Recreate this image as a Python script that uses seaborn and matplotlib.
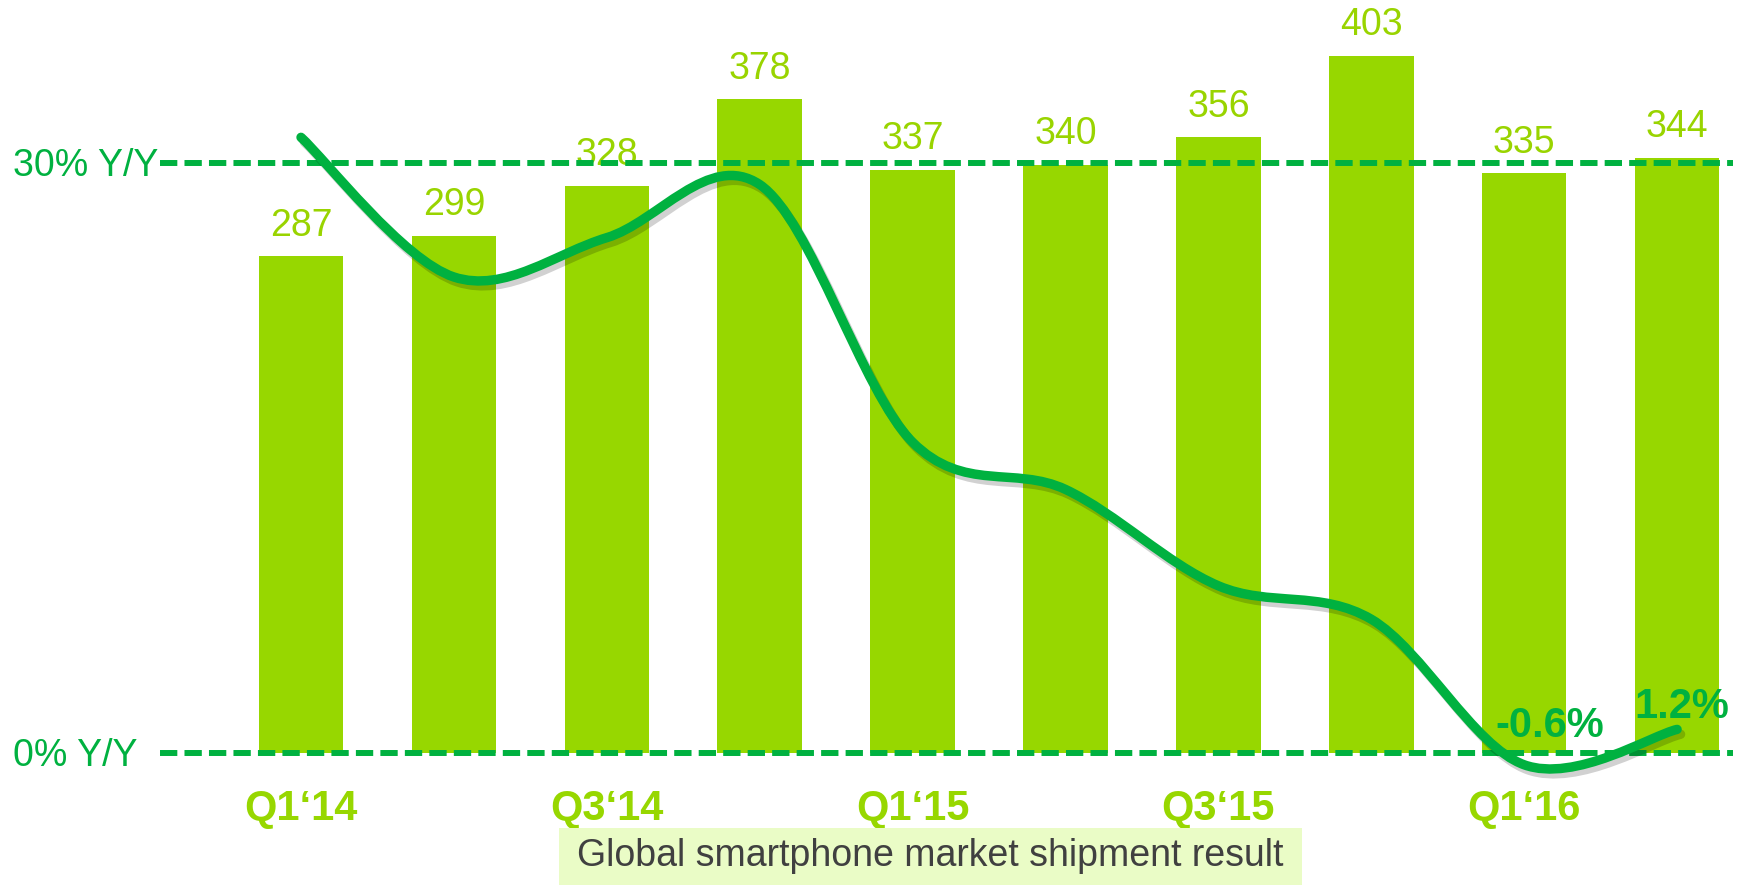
import numpy as np
import pandas as pd
import matplotlib
matplotlib.use('Agg')
import matplotlib.pyplot as plt
import seaborn as sns
import matplotlib.patheffects as pe
from matplotlib.path import Path
from matplotlib.patches import PathPatch, Rectangle

# ── datos ──
QUARTERS  = ["Q1‘14", "Q2‘14", "Q3‘14", "Q4‘14", "Q1‘15",
             "Q2‘15", "Q3‘15", "Q4‘15", "Q1‘16", "Q2‘16"]
SHIPMENTS = [287, 299, 328, 378, 337, 340, 356, 403, 335, 344]
YOY       = [31.3, 24.2, 26.2, 28.9, 15.8, 13.4, 8.5, 6.8, -0.6, 1.2]
SHOW_TICK = [True, False, True, False, True, False, True, False, True, False]
REF_LINES  = [0, 30]
REF_LABELS = ["0% Y/Y", "30% Y/Y"]
SUBTITLE   = "Global smartphone market shipment result"

BAR_GREEN  = "#97D700"
LINE_GREEN = "#00B140"
LABEL_GRN  = "#99D400"

W, H = 1742, 885
sns.set_style("white")
plt.rcParams['font.family'] = ['Liberation Sans', 'DejaVu Sans']

fig = plt.figure(figsize=(W / 100, H / 100), dpi=100)
fig.patch.set_facecolor("white")
ax = fig.add_axes([0, 85 / H, 1, 800 / H])
ax.patch.set_alpha(0)

df = pd.DataFrame({"quarter": QUARTERS, "shipments": SHIPMENTS, "yoy": YOY})

sns.barplot(data=df, x="quarter", y="shipments", color=BAR_GREEN,
            saturation=1, width=0.552, ax=ax, edgecolor="none")
ax.bar_label(ax.containers[0], padding=9, fontsize=27, color=LABEL_GRN)

px_bar = 1.73      # px por unidad
pitch = 152.9      # px entre barras
ax.set_ylim(-47 / px_bar, 753 / px_bar)
ax.set_xlim(-301 / pitch, (W - 301) / pitch)
ax.set_xticks([])
ax.set_yticks([])
ax.set_xlabel("")
ax.set_ylabel("")
sns.despine(ax=ax, left=True, bottom=True)

# etiquetas de trimestre
for i, (q, show) in enumerate(zip(QUARTERS, SHOW_TICK)):
    if show:
        ax.text(i, -20 / 800, q, transform=ax.get_xaxis_transform(),
                ha="center", va="baseline", fontsize=30,
                fontweight="bold", color=BAR_GREEN)

# ── eje Y/Y ──
ax2 = ax.twinx()
px_pct = 19.67
ax2.set_ylim(-47 / px_pct, 753 / px_pct)
ax2.set_xlim(ax.get_xlim())
ax2.set_yticks([])
ax2.axis("off")

x_start, x_end = (160 - 301) / pitch, (1733 - 301) / pitch
for val, lab in zip(REF_LINES, REF_LABELS):
    ax2.plot([x_start, x_end], [val, val], color=LINE_GREEN, lw=4.3,
             ls=(0, (2.9, 1.2)), solid_capstyle="butt", zorder=2)
    ax2.text((13 - 301) / pitch, val - 0.66, lab, ha="left", va="baseline",
             fontsize=27, color=LINE_GREEN)

# curva suavizada (Bezier a partir de los puntos)
pts = np.column_stack([np.arange(len(YOY)), np.array(YOY, dtype=float)])
ext = np.vstack([pts[0], pts, pts[-1]])
verts, codes = [pts[0]], [Path.MOVETO]
for i in range(len(pts) - 1):
    p0, p1, p2, p3 = ext[i], ext[i + 1], ext[i + 2], ext[i + 3]
    verts += [p1 + (p2 - p0) / 6, p2 - (p3 - p1) / 6, p2]
    codes += [Path.CURVE4] * 3
curve = PathPatch(Path(verts, codes), fill=False, edgecolor=LINE_GREEN,
                  lw=6.8, capstyle="round", joinstyle="round", zorder=3)
curve.set_path_effects([pe.SimpleLineShadow(offset=(2.5, -3.5),
                                            shadow_color="black", alpha=0.18),
                        pe.Normal()])
ax2.add_patch(curve)

ax2.text(8.17, YOY[8] + 1.4, "-0.6%", ha="center", va="baseline",
         fontsize=30, fontweight="bold", color=LINE_GREEN, zorder=5)
ax2.text(9.03, YOY[9] + 0.6, "1.2%", ha="center", va="baseline",
         fontsize=30, fontweight="bold", color=LINE_GREEN, zorder=5)

# caja del subtítulo
fig.patches.append(Rectangle((559 / W, 0), 743 / W, 57 / H,
                             transform=fig.transFigure, facecolor="#EAFCC6",
                             edgecolor="none", zorder=1))
fig.text(930 / W, 29 / H, SUBTITLE, ha="center", va="center",
         fontsize=27, color="#404040", zorder=2)

plt.savefig("out.png", dpi=100)
plt.close()
